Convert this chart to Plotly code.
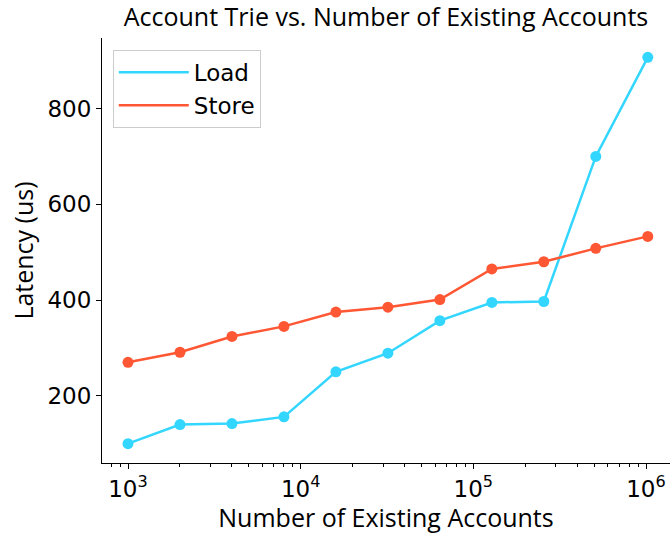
import numpy as np
import plotly.graph_objects as go

accounts = [1000, 2000, 4000, 8000, 16000, 32000, 64000, 128000, 256000, 512000, 1024000]
load_us = [100, 140, 142, 156, 250, 289, 357, 395, 397, 700, 907]
store_us = [270, 291, 324, 345, 375, 385, 401, 465, 480, 508, 533]
y_ticks = [200, 400, 600, 800]
x_ticks = [1e3, 1e4, 1e5, 1e6]
x_ticktext = ["10<sup>3</sup>", "10<sup>4</sup>", "10<sup>5</sup>", "10<sup>6</sup>"]

LOAD_C = "#33d6ff"
STORE_C = "#ff5733"

fig = go.Figure()
for name, vals, col in [("Load", load_us, LOAD_C), ("Store", store_us, STORE_C)]:
    fig.add_trace(go.Scatter(x=accounts, y=vals, mode="lines+markers", name=name,
                             line=dict(color=col, width=2.5),
                             marker=dict(color=col, size=11), showlegend=False))
for name, col in [("Load", LOAD_C), ("Store", STORE_C)]:
    fig.add_trace(go.Scatter(x=[None], y=[None], mode="lines", name=name,
                             line=dict(color=col, width=2.5)))

minor_vals = [m * 10 ** e for e in range(2, 7) for m in range(2, 10)]

tickfont = dict(family="DejaVu Sans", size=23, color="black")
labfont = dict(family="Open Sans", size=25, color="black")

fig.update_layout(
    width=670, height=534,
    margin=dict(l=102, r=0, t=38, b=71),
    paper_bgcolor="white", plot_bgcolor="white",
    title=dict(text="Account Trie vs. Number of Existing Accounts", x=0.5, xref="paper",
               y=0.967, yanchor="middle", font=dict(family="Open Sans", size=25, color="black")),
    xaxis=dict(type="log", range=[2.8494, 6.139], tickvals=x_ticks, ticktext=x_ticktext,
               ticks="outside", ticklen=5, tickwidth=1, tickcolor="black",
               showline=True, linecolor="black", linewidth=1, showgrid=False, zeroline=False,
               tickfont=tickfont,
               minor=dict(tickvals=minor_vals, ticks="outside", ticklen=3, tickcolor="black", showgrid=False),
               title=dict(text="Number of Existing Accounts", font=labfont, standoff=4)),
    yaxis=dict(range=[59.65, 947.35], tickvals=y_ticks,
               ticks="outside", ticklen=5, tickwidth=1, tickcolor="black",
               showline=True, linecolor="black", linewidth=1, showgrid=False, zeroline=False,
               tickfont=tickfont,
               title=dict(text="Latency (us)", font=labfont, standoff=6)),
    legend=dict(x=0.019, y=0.972, xanchor="left", yanchor="top",
                bgcolor="white", bordercolor="#cccccc", borderwidth=1,
                font=dict(family="DejaVu Sans", size=23, color="black"),
                itemwidth=70, tracegroupgap=0),
)

fig.write_html("out.html")
